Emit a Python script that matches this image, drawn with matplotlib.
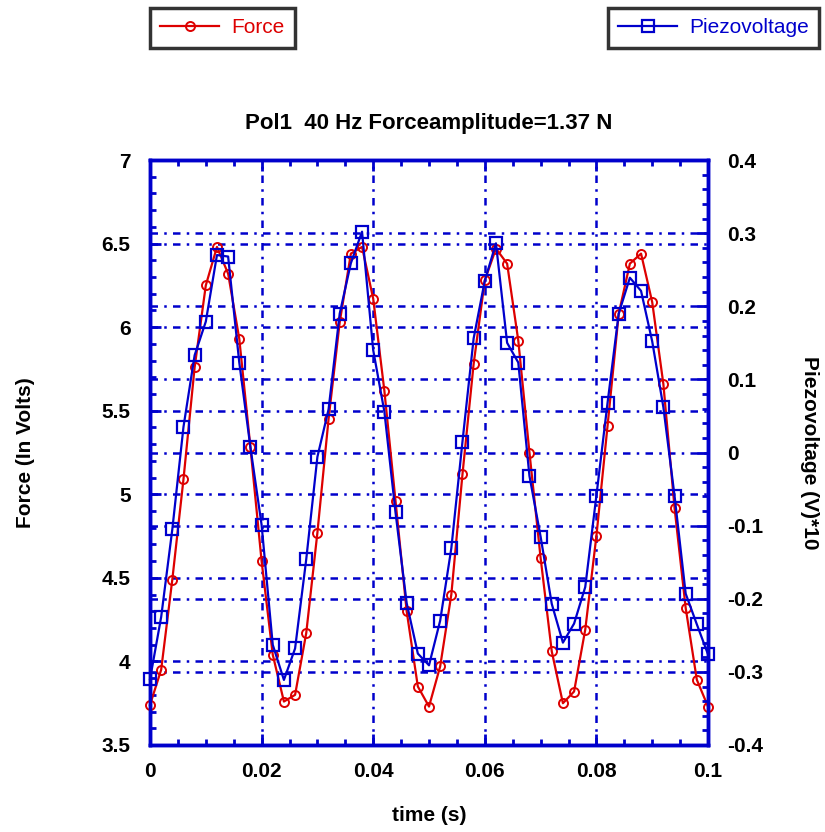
import matplotlib
matplotlib.use("Agg")
import matplotlib.pyplot as plt
import matplotlib.transforms as mtransforms
from matplotlib.ticker import MultipleLocator, FuncFormatter
import numpy as np

# time axis, one sample every 2 ms
time = np.arange(51) * 0.002

force = [3.74, 3.95, 4.49, 5.09, 5.76, 6.25, 6.48, 6.32, 5.93, 5.28,
         4.60, 4.04, 3.76, 3.80, 4.17, 4.77, 5.45, 6.03, 6.44, 6.48,
         6.17, 5.62, 4.96, 4.30, 3.85, 3.73, 3.97, 4.40, 5.12, 5.78,
         6.28, 6.47, 6.38, 5.92, 5.25, 4.62, 4.06, 3.75, 3.82, 4.19,
         4.75, 5.41, 6.08, 6.38, 6.44, 6.15, 5.66, 4.92, 4.32, 3.89,
         3.73]

piezo = [-0.310, -0.225, -0.105, 0.035, 0.133, 0.179, 0.270, 0.268, 0.123, 0.007,
         -0.099, -0.263, -0.311, -0.268, -0.146, -0.006, 0.059, 0.190, 0.259, 0.302,
         0.140, 0.056, -0.082, -0.206, -0.275, -0.291, -0.230, -0.131, 0.015, 0.156,
         0.235, 0.286, 0.150, 0.123, -0.032, -0.115, -0.207, -0.260, -0.234, -0.184,
         -0.059, 0.068, 0.190, 0.239, 0.221, 0.152, 0.062, -0.059, -0.193, -0.235,
         -0.276]

x_ticks = [0, 0.02, 0.04, 0.06, 0.08, 0.1]
force_ticks = [3.5, 4, 4.5, 5, 5.5, 6, 6.5, 7]
piezo_ticks = [-0.4, -0.3, -0.2, -0.1, 0, 0.1, 0.2, 0.3, 0.4]

blue = "#0000cc"
red = "#dd0000"
plt.rcParams['font.family'] = ['Liberation Sans', 'DejaVu Sans']

fig = plt.figure(figsize=(8.25, 8.32), dpi=100)
ax = fig.add_axes([150/825, 87/832, 558/825, 585/832])
ax2 = ax.twinx()

gstyle = dict(color=blue, lw=1.8, ls=(0, (3, 2.5, 1, 2.5)), zorder=1)
for v in x_ticks[1:-1]:
    ax.axvline(v, **gstyle)
for v in force_ticks[1:-1]:
    ax.axhline(v, **gstyle)
# right axis grid drawn on the left axes so it stays under the data
trans = mtransforms.blended_transform_factory(ax.transAxes, ax2.transData)
for v in piezo_ticks[1:-1]:
    ax.plot([0, 1], [v, v], transform=trans, **gstyle)

ax.plot(time, force, color=red, lw=1.6, marker='o', ms=6.5, mfc='none',
        mew=1.4, zorder=3, label='Force', clip_on=False)
ax2.plot(time, piezo, color=blue, lw=1.6, marker='s', ms=8, mfc='none',
         mew=1.6, zorder=3, label='Piezovoltage', clip_on=False)

ax.set_xlim(0, 0.1)
ax.set_ylim(3.5, 7)
ax2.set_ylim(-0.4, 0.4)

fmt = FuncFormatter(lambda v, p: '%g' % v)
ax.set_xticks(x_ticks)
ax.set_yticks(force_ticks)
ax2.set_yticks(piezo_ticks)
for a in (ax.xaxis, ax.yaxis, ax2.yaxis):
    a.set_major_formatter(fmt)
ax.xaxis.set_minor_locator(MultipleLocator(0.005))
ax.yaxis.set_minor_locator(MultipleLocator(0.1))
ax2.yaxis.set_minor_locator(MultipleLocator(0.02))

ax.tick_params(axis='x', which='both', direction='in', top=True, colors=blue,
               labelcolor='black', labelsize=15, pad=12)
ax.tick_params(axis='y', which='both', direction='in', right=False, colors=blue,
               labelcolor='black', labelsize=15, pad=14)
ax2.tick_params(axis='y', which='both', direction='in', colors=blue,
                labelcolor='black', labelsize=15, pad=14)
for a in (ax, ax2):
    a.tick_params(which='major', length=8, width=2)
    a.tick_params(which='minor', length=4, width=2)
    for s in a.spines.values():
        s.set_color(blue)
        s.set_linewidth(2.5)
for lab in ax.get_xticklabels() + ax.get_yticklabels() + ax2.get_yticklabels():
    lab.set_fontweight('bold')

ax.set_xlabel('time (s)', fontsize=15, fontweight='bold', labelpad=18)
ax.set_ylabel('Force (In Volts)', fontsize=15, fontweight='bold', labelpad=48)
ax2.set_ylabel('Piezovoltage (V)*10', fontsize=15, fontweight='bold',
               rotation=270, labelpad=40)
ax.set_title('Pol1  40 Hz Forceamplitude=1.37 N', fontsize=16,
             fontweight='bold', pad=22)

# two separate boxed legends above the plot
for a, pos in ((ax, (150/825, 1 - 8/832)), (ax2, (608/825, 1 - 8/832))):
    leg = fig.legend(handles=a.get_lines()[-1:], loc='upper left',
                     bbox_to_anchor=pos, borderaxespad=0, fontsize=15,
                     frameon=True, fancybox=False, borderpad=0.5,
                     handlelength=2.8, handletextpad=0.6,
                     labelcolor='linecolor')
    leg.get_frame().set_edgecolor('black')
    leg.get_frame().set_linewidth(2.5)

fig.savefig('out.png', dpi=100)
